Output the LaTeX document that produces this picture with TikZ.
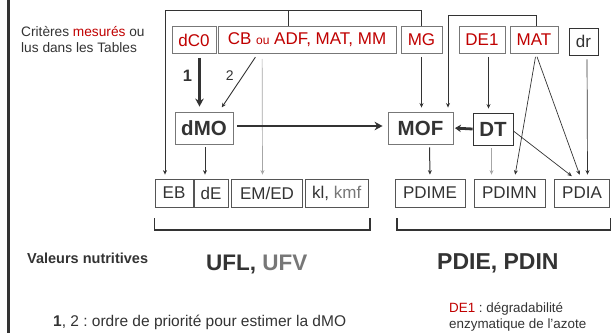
\documentclass[tikz,border=0pt]{standalone}
\usepackage{fontspec}
\setmainfont{Liberation Sans}
\usetikzlibrary{arrows.meta,calc}
\definecolor{ored}{HTML}{C00000}
\definecolor{odark}{HTML}{333333}
\definecolor{ogray}{HTML}{777777}
\definecolor{oline}{HTML}{555555}
\definecolor{olight}{HTML}{A6A6A6}
\frenchspacing
\tikzset{
  crit/.style={draw=ogray,fill=white,text=ored,font=\fontsize{17}{20}\selectfont,inner sep=0pt,minimum height=27pt,line width=0.8pt},
  val/.style={draw=oline,fill=white,text=odark,font=\fontsize{17}{20}\selectfont,inner sep=0pt,minimum height=28pt,line width=0.8pt},
  big/.style={draw=ogray,fill=white,text=odark,font=\fontsize{20.5}{24}\selectfont\bfseries,inner sep=0pt,minimum height=32pt,line width=0.9pt},
  arr/.style={-{Stealth[length=4.5pt,width=4pt]},line width=0.7pt,draw=odark,shorten <=3pt,shorten >=4pt},
  garr/.style={arr,draw=olight},
  carr/.style={-{Stealth[length=8pt,width=8.5pt]},line width=2.8pt,draw=odark,shorten <=4pt,shorten >=5pt},
  brk/.style={line width=1.8pt,draw=odark},
  lbl/.style={text=odark,inner sep=0pt},
}
\begin{document}
\begin{tikzpicture}[x=1pt,y=-1pt]
  \useasboundingbox (0,0) rectangle (612,333);
  \draw[line width=2.4pt,odark] (8.3,0) -- (8.3,333);
  \node[lbl,anchor=north west,align=left,font=\fontsize{13.7}{16}\selectfont] (crit) at (21,26) {Critères \textcolor{ored}{mesurés} ou\\lus dans les Tables};
  \foreach \nm/\cx/\w/\tx in {dc0/194/44/dC0, cb/307/178/{CB {\fontsize{12}{14}\selectfont ou} ADF, MAT, MM}, mg/421.5/41/MG, de1/482/46/DE1, mat/534/48/MAT}
    \node[crit,minimum width=\w pt] (\nm) at (\cx,40) {\tx};
  \node[crit,text=odark,draw=odark,minimum width=29pt] (dr) at (583.5,41.5) {dr};
  \node[big,minimum width=58pt] (dmo) at (204,128) {dMO};
  \node[big,minimum width=65pt] (mof) at (420.5,128) {MOF};
  \node[big,draw=odark,minimum width=40pt] (dt) at (493,129) {DT};
  \foreach \nm/\cx/\w/\tx in {eb/174/38/EB, de/211/34/dE, emed/267/70.6/{EM/ED}, kl/336.7/63.3/{kl, \textcolor{ogray}{kmf}}, pdime/430/70/PDIME, pdimn/509.5/71/PDIMN, pdia/582/55/PDIA}
    \node[val,minimum width=\w pt] (\nm) at (\cx,193) {\tx};
  \coordinate (railL) at (165,10);
  \coordinate (railR) at (448,15);
  \coordinate (cbtop) at ([xshift=-19pt]cb.north);
  \draw[arr,shorten <=0pt] (mg.north) |- (railL) -- (railL |- eb.north);
  \draw[odark,line width=0.7pt] (cbtop) -- (cbtop |- railL);
  \draw[arr,shorten <=0pt] ([xshift=2pt]mat.north) |- (railR) -- (railR |- mof.north);
  \draw[carr] ([xshift=5.5pt]dc0.south) -- ([xshift=-4.5pt]dmo.north);
  \draw[arr,line width=0.9pt,shorten <=4pt,shorten >=5pt] ([xshift=40pt]cb.south west) -- ([xshift=15pt]dmo.north);
  \node[lbl,font=\fontsize{16.5}{19}\selectfont\bfseries] (lab1) at (187.5,76) {1};
  \node[lbl,font=\fontsize{14}{17}\selectfont] (lab2) at (229.7,75.7) {2};
  \draw[garr,shorten <=5pt] ([xshift=44.5pt]cb.south west) -- ([xshift=-4.5pt]emed.north);
  \draw[arr] (mg.south) -- (mg.south |- mof.north);
  \draw[arr,line width=1.1pt] ([xshift=6.5pt]de1.south) -- ([xshift=-4.5pt]dt.north);
  \draw[arr] ([xshift=2pt]mat.south) -- ([xshift=5pt]pdimn.north);
  \draw[arr] ([xshift=2pt]mat.south) -- ([xshift=-1pt]pdia.north);
  \draw[arr,shorten <=4pt] ([xshift=3.5pt]dr.south) -- ([xshift=5.5pt]pdia.north);
  \draw[carr] ([yshift=2pt]dmo.east) -- ([yshift=2pt]mof.west);
  \draw[carr,-{Stealth[length=6pt,width=7.5pt]},shorten <=0pt,shorten >=1.5pt] (dt.west) -- (mof.east);
  \draw[arr,shorten <=0pt] ([yshift=-2pt]dt.east) -- ([xshift=-7pt]pdia.north);
  \draw[garr] ([xshift=-1.5pt]dt.south) -- ([xshift=-18pt]pdimn.north);
  \draw[arr,line width=1pt] ([xshift=9pt]mof.south) -- (pdime.north);
  \draw[arr,line width=1pt] ([xshift=1pt]dmo.south) -- ([xshift=-6pt]de.north);
  \draw[brk] (154.5,218) |- (370,230) -- (370,218);
  \draw[brk] (397,218) |- (610.5,230) -- (610.5,218);
  \node[lbl,anchor=base west,font=\fontsize{14.5}{17}\selectfont\bfseries] (valn) at (27,263) {Valeurs nutritives};
  \node[lbl,anchor=base west,font=\fontsize{22.5}{26}\selectfont\bfseries] (ufl) at (206,270) {UFL, \textcolor{ogray}{UFV}};
  \node[lbl,anchor=base west,font=\fontsize{23}{26}\selectfont\bfseries] (pdie) at (437,269) {PDIE, PDIN};
  \node[lbl,anchor=base west,font=\fontsize{15.5}{18}\selectfont] (prio) at (53,326) {\textbf{1}, 2 : ordre de priorité pour estimer la dMO};
  \node[lbl,anchor=north west,align=left,font=\fontsize{13.4}{16}\selectfont] (de1n) at (449,302) {\textcolor{ored}{DE1} : dégradabilité\\enzymatique de l’azote};
\end{tikzpicture}
\end{document}
